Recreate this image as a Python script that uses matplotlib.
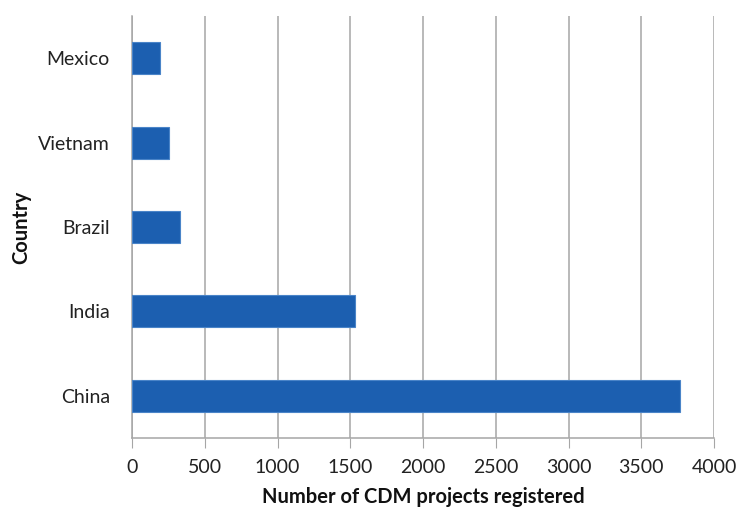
import matplotlib.pyplot as plt

countries = ["China", "India", "Brazil", "Vietnam", "Mexico"]
projects = [3766, 1533, 330, 254, 192]
x_ticks = [0, 500, 1000, 1500, 2000, 2500, 3000, 3500, 4000]

plt.rcParams["font.family"] = ["Lato", "DejaVu Sans"]

fig = plt.figure(figsize=(7.38, 5.09), dpi=100)
ax = fig.add_axes([0.1789, 0.1395, 0.7886, 0.829])

ax.barh(countries, projects, height=0.38, color="#1c5fb0",
        edgecolor="#4a84c8", linewidth=0.8, zorder=3)

ax.set_xlim(0, 4000)
ax.set_ylim(-0.5, len(countries) - 0.5)
ax.set_xticks(x_ticks)
ax.xaxis.grid(True, color="#a6a6a6", linewidth=1.1, zorder=0)

for side in ["top", "right"]:
    ax.spines[side].set_visible(False)
for side in ["left", "bottom"]:
    ax.spines[side].set_color("#a6a6a6")
    ax.spines[side].set_linewidth(1.1)

ax.tick_params(axis="x", length=7, color="#a6a6a6", labelsize=14,
               labelcolor="#222222", pad=8)
ax.tick_params(axis="y", length=0, labelsize=14, labelcolor="#222222", pad=16)

ax.set_xlabel("Number of CDM projects registered", fontsize=14.5,
              fontweight="bold", color="#111111", labelpad=8)
ax.set_ylabel("Country", fontsize=14.5, fontweight="bold", color="#111111",
              labelpad=5)

fig.savefig("out.png", dpi=100)
